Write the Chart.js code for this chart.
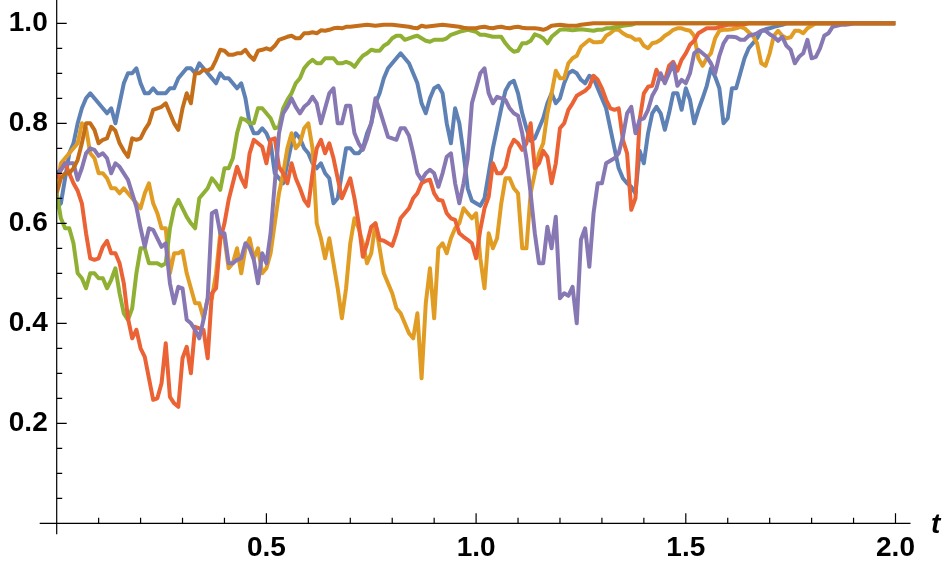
<!DOCTYPE html>
<html>
<head>
<meta charset="utf-8">
<script src="https://cdn.jsdelivr.net/npm/chart.js@4.4.1/dist/chart.umd.min.js"></script>
<style>
  html, body { margin: 0; padding: 0; background: #fff; }
  #wrap { width: 947px; height: 569px; }
</style>
</head>
<body>
<div id="wrap"><canvas id="walks"></canvas></div>
<script>
// time grid, step 0.01
const times = [
  0.00, 0.01, 0.02, 0.03, 0.04, 0.05, 0.06, 0.07, 0.08, 0.09,
  0.10, 0.11, 0.12, 0.13, 0.14, 0.15, 0.16, 0.17, 0.18, 0.19,
  0.20, 0.21, 0.22, 0.23, 0.24, 0.25, 0.26, 0.27, 0.28, 0.29,
  0.30, 0.31, 0.32, 0.33, 0.34, 0.35, 0.36, 0.37, 0.38, 0.39,
  0.40, 0.41, 0.42, 0.43, 0.44, 0.45, 0.46, 0.47, 0.48, 0.49,
  0.50, 0.51, 0.52, 0.53, 0.54, 0.55, 0.56, 0.57, 0.58, 0.59,
  0.60, 0.61, 0.62, 0.63, 0.64, 0.65, 0.66, 0.67, 0.68, 0.69,
  0.70, 0.71, 0.72, 0.73, 0.74, 0.75, 0.76, 0.77, 0.78, 0.79,
  0.80, 0.81, 0.82, 0.83, 0.84, 0.85, 0.86, 0.87, 0.88, 0.89,
  0.90, 0.91, 0.92, 0.93, 0.94, 0.95, 0.96, 0.97, 0.98, 0.99,
  1.00, 1.01, 1.02, 1.03, 1.04, 1.05, 1.06, 1.07, 1.08, 1.09,
  1.10, 1.11, 1.12, 1.13, 1.14, 1.15, 1.16, 1.17, 1.18, 1.19,
  1.20, 1.21, 1.22, 1.23, 1.24, 1.25, 1.26, 1.27, 1.28, 1.29,
  1.30, 1.31, 1.32, 1.33, 1.34, 1.35, 1.36, 1.37, 1.38, 1.39,
  1.40, 1.41, 1.42, 1.43, 1.44, 1.45, 1.46, 1.47, 1.48, 1.49,
  1.50, 1.51, 1.52, 1.53, 1.54, 1.55, 1.56, 1.57, 1.58, 1.59,
  1.60, 1.61, 1.62, 1.63, 1.64, 1.65, 1.66, 1.67, 1.68, 1.69,
  1.70, 1.71, 1.72, 1.73, 1.74, 1.75, 1.76, 1.77, 1.78, 1.79,
  1.80, 1.81, 1.82, 1.83, 1.84, 1.85, 1.86, 1.87, 1.88, 1.89,
  1.90, 1.91, 1.92, 1.93, 1.94, 1.95, 1.96, 1.97, 1.98, 1.99,
  2.00
];

const blueWalk = [
  0.63, 0.64, 0.69, 0.74, 0.76, 0.80, 0.83, 0.85, 0.86, 0.85,
  0.84, 0.83, 0.82, 0.83, 0.80, 0.84, 0.88, 0.90, 0.90, 0.91,
  0.88, 0.86, 0.86, 0.87, 0.86, 0.86, 0.86, 0.87, 0.87, 0.89,
  0.90, 0.91, 0.91, 0.90, 0.92, 0.91, 0.90, 0.89, 0.88, 0.90,
  0.89, 0.89, 0.88, 0.87, 0.88, 0.85, 0.80, 0.78, 0.78, 0.79,
  0.78, 0.76, 0.70, 0.69, 0.68, 0.72, 0.76, 0.78, 0.77, 0.75,
  0.74, 0.72, 0.71, 0.72, 0.70, 0.69, 0.64, 0.65, 0.70, 0.75,
  0.75, 0.74, 0.74, 0.75, 0.78, 0.80, 0.84, 0.86, 0.89, 0.91,
  0.92, 0.93, 0.94, 0.93, 0.92, 0.90, 0.88, 0.84, 0.82, 0.85,
  0.87, 0.875, 0.86, 0.80, 0.76, 0.83, 0.80, 0.74, 0.67, 0.645,
  0.64, 0.635, 0.65, 0.70, 0.75, 0.79, 0.83, 0.865, 0.88, 0.885,
  0.86, 0.82, 0.79, 0.765, 0.77, 0.79, 0.81, 0.84, 0.86, 0.84,
  0.85, 0.88, 0.90, 0.905, 0.90, 0.887, 0.88, 0.895, 0.89, 0.87,
  0.85, 0.83, 0.79, 0.75, 0.71, 0.69, 0.68, 0.673, 0.66, 0.745,
  0.72, 0.78, 0.82, 0.833, 0.82, 0.787, 0.82, 0.86, 0.86, 0.827,
  0.87, 0.847, 0.80, 0.827, 0.85, 0.875, 0.91, 0.893, 0.87, 0.80,
  0.81, 0.87, 0.87, 0.90, 0.93, 0.95, 0.96, 0.97, 0.985, 0.988,
  0.99, 0.993, 0.995, 0.997, 1, 1, 1, 1, 1, 1,
  1, 1, 1, 1, 1, 1, 1, 1, 1, 1,
  1, 1, 1, 1, 1, 1, 1, 1, 1, 1,
  1
];

const yellowWalk = [
  0.67, 0.72, 0.73, 0.74, 0.75, 0.76, 0.80, 0.79, 0.74, 0.73,
  0.70, 0.70, 0.69, 0.67, 0.67, 0.66, 0.67, 0.66, 0.65, 0.64,
  0.63, 0.66, 0.68, 0.64, 0.62, 0.59, 0.59, 0.50, 0.54, 0.54,
  0.545, 0.50, 0.47, 0.44, 0.44, 0.41, 0.45, 0.45, 0.50, 0.58,
  0.57, 0.51, 0.52, 0.55, 0.50, 0.55, 0.57, 0.53, 0.55, 0.50,
  0.51, 0.54, 0.60, 0.66, 0.70, 0.75, 0.78, 0.75, 0.76, 0.79,
  0.80, 0.75, 0.60, 0.57, 0.53, 0.57, 0.52, 0.47, 0.41, 0.47,
  0.56, 0.61, 0.59, 0.56, 0.52, 0.54, 0.60, 0.55, 0.50, 0.48,
  0.46, 0.43, 0.42, 0.40, 0.38, 0.37, 0.42, 0.29, 0.44, 0.51,
  0.41, 0.55, 0.56, 0.54, 0.57, 0.59, 0.60, 0.63, 0.62, 0.61,
  0.62, 0.53, 0.47, 0.58, 0.55, 0.57, 0.64, 0.69, 0.69, 0.67,
  0.66, 0.55, 0.55, 0.66, 0.70, 0.74, 0.76, 0.82, 0.86, 0.905,
  0.89, 0.89, 0.92, 0.93, 0.935, 0.953, 0.96, 0.967, 0.962, 0.962,
  0.963, 0.975, 0.98, 0.987, 0.987, 0.98, 0.975, 0.973, 0.967, 0.968,
  0.955, 0.95, 0.96, 0.962, 0.967, 0.975, 0.98, 0.987, 0.99, 0.99,
  0.987, 0.985, 0.975, 0.93, 0.915, 0.93, 0.94, 0.97, 0.985, 0.987,
  0.987, 0.988, 0.99, 0.993, 0.99, 0.982, 0.975, 0.96, 0.92, 0.915,
  0.94, 0.975, 0.985, 0.975, 0.97, 0.972, 0.985, 0.985, 0.98, 0.99,
  0.995, 1, 1, 1, 1, 1, 1, 1, 1, 1,
  1, 1, 1, 1, 1, 1, 1, 1, 1, 1,
  1
];

const greenWalk = [
  0.66, 0.61, 0.59, 0.59, 0.56, 0.50, 0.49, 0.47, 0.50, 0.50,
  0.49, 0.49, 0.47, 0.487, 0.51, 0.46, 0.42, 0.407, 0.43, 0.50,
  0.55, 0.55, 0.52, 0.52, 0.52, 0.515, 0.52, 0.59, 0.63, 0.647,
  0.63, 0.613, 0.60, 0.59, 0.65, 0.66, 0.67, 0.69, 0.68, 0.667,
  0.71, 0.71, 0.73, 0.78, 0.81, 0.807, 0.80, 0.80, 0.83, 0.83,
  0.82, 0.81, 0.79, 0.793, 0.83, 0.847, 0.86, 0.88, 0.89, 0.91,
  0.92, 0.927, 0.92, 0.92, 0.93, 0.93, 0.93, 0.92, 0.92, 0.923,
  0.92, 0.913, 0.925, 0.935, 0.94, 0.947, 0.945, 0.945, 0.955, 0.96,
  0.97, 0.975, 0.975, 0.967, 0.97, 0.973, 0.975, 0.97, 0.965, 0.963,
  0.967, 0.967, 0.967, 0.97, 0.977, 0.98, 0.983, 0.985, 0.987, 0.985,
  0.983, 0.977, 0.977, 0.975, 0.973, 0.973, 0.973, 0.96, 0.95, 0.943,
  0.945, 0.96, 0.96, 0.965, 0.978, 0.975, 0.97, 0.96, 0.973, 0.98,
  0.987, 0.988, 0.987, 0.986, 0.987, 0.988, 0.987, 0.986, 0.985, 0.987,
  0.987, 0.99, 0.99, 0.992, 0.993, 0.995, 0.996, 0.997, 1, 1,
  1, 1, 1, 1, 1, 1, 1, 1, 1, 1,
  1, 1, 1, 1, 1, 1, 1, 1, 1, 1,
  1, 1, 1, 1, 1, 1, 1, 1, 1, 1,
  1, 1, 1, 1, 1, 1, 1, 1, 1, 1,
  1, 1, 1, 1, 1, 1, 1, 1, 1, 1,
  1, 1, 1, 1, 1, 1, 1, 1, 1, 1,
  1
];

const redWalk = [
  0.69, 0.707, 0.72, 0.70, 0.68, 0.665, 0.64, 0.58, 0.53, 0.527,
  0.53, 0.553, 0.565, 0.54, 0.54, 0.52, 0.48, 0.41, 0.37, 0.387,
  0.35, 0.333, 0.29, 0.247, 0.25, 0.28, 0.36, 0.253, 0.24, 0.233,
  0.33, 0.353, 0.30, 0.393, 0.39, 0.387, 0.33, 0.46, 0.47, 0.567,
  0.60, 0.647, 0.68, 0.713, 0.69, 0.673, 0.74, 0.767, 0.76, 0.753,
  0.72, 0.767, 0.77, 0.713, 0.70, 0.68, 0.72, 0.69, 0.67, 0.647,
  0.635, 0.70, 0.75, 0.767, 0.74, 0.76, 0.73, 0.69, 0.65, 0.67,
  0.69, 0.65, 0.60, 0.533, 0.56, 0.593, 0.60, 0.567, 0.565, 0.56,
  0.555, 0.58, 0.61, 0.62, 0.63, 0.65, 0.66, 0.68, 0.685, 0.687,
  0.66, 0.647, 0.645, 0.62, 0.61, 0.607, 0.58, 0.573, 0.567, 0.56,
  0.53, 0.587, 0.63, 0.653, 0.72, 0.70, 0.70, 0.713, 0.75, 0.767,
  0.76, 0.747, 0.76, 0.80, 0.71, 0.72, 0.745, 0.733, 0.68, 0.72,
  0.79, 0.80, 0.827, 0.84, 0.855, 0.86, 0.865, 0.873, 0.895, 0.887,
  0.87, 0.847, 0.83, 0.827, 0.83, 0.767, 0.74, 0.627, 0.65, 0.807,
  0.86, 0.873, 0.875, 0.907, 0.89, 0.885, 0.915, 0.923, 0.905, 0.927,
  0.94, 0.957, 0.965, 0.98, 0.985, 0.99, 0.99, 0.99, 0.993, 0.995,
  0.997, 0.997, 0.997, 0.998, 0.998, 1, 1, 1, 1, 1,
  1, 1, 1, 1, 1, 1, 1, 1, 1, 1,
  1, 1, 1, 1, 1, 1, 1, 1, 1, 1,
  1, 1, 1, 1, 1, 1, 1, 1, 1, 1,
  1
];

const purpleWalk = [
  0.70, 0.707, 0.72, 0.72, 0.72, 0.687, 0.71, 0.74, 0.75, 0.747,
  0.735, 0.74, 0.73, 0.70, 0.72, 0.713, 0.70, 0.687, 0.66, 0.633,
  0.59, 0.553, 0.59, 0.587, 0.57, 0.553, 0.56, 0.48, 0.44, 0.473,
  0.47, 0.407, 0.40, 0.387, 0.37, 0.407, 0.45, 0.62, 0.625, 0.58,
  0.58, 0.52, 0.52, 0.527, 0.53, 0.56, 0.55, 0.527, 0.48, 0.54,
  0.52, 0.58, 0.68, 0.78, 0.82, 0.833, 0.85, 0.833, 0.82, 0.833,
  0.84, 0.853, 0.84, 0.80, 0.83, 0.86, 0.87, 0.80, 0.80, 0.835,
  0.835, 0.78, 0.76, 0.747, 0.77, 0.80, 0.85, 0.827, 0.80, 0.773,
  0.77, 0.767, 0.79, 0.79, 0.775, 0.74, 0.70, 0.687, 0.70, 0.707,
  0.70, 0.673, 0.70, 0.733, 0.74, 0.68, 0.64, 0.68, 0.73, 0.84,
  0.87, 0.90, 0.91, 0.86, 0.84, 0.853, 0.85, 0.847, 0.83, 0.82,
  0.815, 0.78, 0.73, 0.66, 0.58, 0.52, 0.52, 0.593, 0.55, 0.613,
  0.45, 0.46, 0.455, 0.473, 0.40, 0.567, 0.59, 0.513, 0.62, 0.68,
  0.68, 0.72, 0.725, 0.73, 0.74, 0.773, 0.82, 0.833, 0.78, 0.807,
  0.81, 0.827, 0.855, 0.87, 0.90, 0.88, 0.90, 0.92, 0.875, 0.887,
  0.88, 0.90, 0.94, 0.947, 0.94, 0.933, 0.92, 0.90, 0.935, 0.96,
  0.973, 0.973, 0.972, 0.967, 0.967, 0.975, 0.977, 0.98, 0.985, 0.985,
  0.978, 0.973, 0.965, 0.973, 0.955, 0.947, 0.92, 0.933, 0.94, 0.967,
  0.93, 0.933, 0.95, 0.975, 0.98, 0.993, 0.995, 0.997, 0.997, 0.998,
  1, 1, 1, 1, 1, 1, 1, 1, 1, 1,
  1
];

const brownWalk = [
  0.66, 0.69, 0.70, 0.70, 0.71, 0.727, 0.76, 0.80, 0.80, 0.787,
  0.76, 0.767, 0.77, 0.793, 0.785, 0.76, 0.745, 0.733, 0.77, 0.767,
  0.77, 0.787, 0.80, 0.827, 0.83, 0.833, 0.84, 0.82, 0.80, 0.787,
  0.83, 0.86, 0.84, 0.90, 0.90, 0.907, 0.905, 0.91, 0.927, 0.947,
  0.945, 0.937, 0.937, 0.94, 0.94, 0.947, 0.935, 0.927, 0.945, 0.947,
  0.95, 0.947, 0.955, 0.967, 0.97, 0.973, 0.975, 0.97, 0.97, 0.98,
  0.98, 0.982, 0.98, 0.986, 0.985, 0.987, 0.99, 0.991, 0.99, 0.993,
  0.993, 0.994, 0.995, 0.996, 0.997, 0.996, 0.995, 0.996, 0.997, 0.997,
  0.997, 0.996, 0.995, 0.994, 0.993, 0.991, 0.99, 0.995, 0.993, 0.994,
  0.995, 0.996, 0.997, 0.996, 0.995, 0.994, 0.993, 0.991, 0.99, 0.99,
  0.99, 0.992, 0.993, 0.991, 0.99, 0.992, 0.993, 0.991, 0.99, 0.992,
  0.993, 0.991, 0.99, 0.99, 0.99, 0.989, 0.987, 0.99, 0.995, 0.996,
  0.997, 0.996, 0.995, 0.995, 0.995, 0.997, 0.998, 0.999, 1, 1,
  1, 1, 1, 1, 1, 1, 1, 1, 1, 1,
  1, 1, 1, 1, 1, 1, 1, 1, 1, 1,
  1, 1, 1, 1, 1, 1, 1, 1, 1, 1,
  1, 1, 1, 1, 1, 1, 1, 1, 1, 1,
  1, 1, 1, 1, 1, 1, 1, 1, 1, 1,
  1, 1, 1, 1, 1, 1, 1, 1, 1, 1,
  1, 1, 1, 1, 1, 1, 1, 1, 1, 1,
  1
];

// tick positions: minor every 0.1 / 0.05, labels on the majors
const xTickValues = [0.1, 0.2, 0.3, 0.4, 0.5, 0.6, 0.7, 0.8, 0.9, 1.0,
                     1.1, 1.2, 1.3, 1.4, 1.5, 1.6, 1.7, 1.8, 1.9, 2.0];
const xTickLabels = [0.5, 1.0, 1.5, 2.0];
const yTickValues = [0.05, 0.10, 0.15, 0.20, 0.25, 0.30, 0.35, 0.40, 0.45, 0.50,
                     0.55, 0.60, 0.65, 0.70, 0.75, 0.80, 0.85, 0.90, 0.95, 1.00];
const yTickLabels = [0.2, 0.4, 0.6, 0.8, 1.0];

// Mathematica default colour order; the last one is drawn on top
const walks = [blueWalk, yellowWalk, greenWalk, redWalk, purpleWalk, brownWalk];
const colors = ["#5E81B5", "#E19C24", "#8FB032", "#EB6235", "#8778B3", "#C56E1A"];

const tickFont = { family: "'Liberation Sans', Arial, sans-serif", size: 28, weight: "bold" };

function isLabelled(v, list) {
    return list.some(l => Math.abs(l - v) < 1e-6);
}

// axes crossing at the origin with inward tick marks
const axesPlugin = {
    id: "mathAxes",
    afterDraw(chart) {
        const { ctx, scales: { x, y } } = chart;
        const x0 = x.getPixelForValue(0);
        const y0 = y.getPixelForValue(0);
        ctx.save();
        ctx.strokeStyle = "#000";
        ctx.lineWidth = 1.2;
        ctx.beginPath();
        ctx.moveTo(x0 - 17, y0);
        ctx.lineTo(x.getPixelForValue(2) + 15, y0);
        ctx.moveTo(x0, 0);
        ctx.lineTo(x0, y0 + 11);

        x.ticks.forEach(t => {
            const px = x.getPixelForValue(t.value);
            const len = isLabelled(t.value, xTickLabels) ? 10 : 5.5;
            ctx.moveTo(px, y0);
            ctx.lineTo(px, y0 - len);
        });
        y.ticks.forEach(t => {
            const py = y.getPixelForValue(t.value);
            const len = isLabelled(t.value, yTickLabels) ? 10 : 5.5;
            ctx.moveTo(x0, py);
            ctx.lineTo(x0 + len, py);
        });
        ctx.stroke();

        ctx.fillStyle = "#000";
        ctx.font = "italic bold 28px 'Liberation Sans', Arial, sans-serif";
        ctx.textBaseline = "alphabetic";
        ctx.fillText("t", 931, 533);
        ctx.restore();
    }
};

new Chart(document.getElementById("walks").getContext("2d"), {
    type: "line",
    data: {
        labels: times,
        datasets: walks.map((w, i) => ({
            data: w.map((v, k) => ({ x: times[k], y: v })),
            borderColor: colors[i],
            borderWidth: 4,
            pointRadius: 0,
            tension: 0,
            fill: false,
            borderJoinStyle: "round",
            order: walks.length - i
        }))
    },
    options: {
        responsive: true,
        maintainAspectRatio: false,
        animation: false,
        layout: { padding: { left: 0, right: 51.5, top: 3.3, bottom: 0 } },
        plugins: { legend: { display: false }, tooltip: { enabled: false } },
        scales: {
            x: {
                type: "linear",
                min: 0,
                max: 2,
                grid: { display: false, drawTicks: false },
                border: { display: false },
                afterBuildTicks: s => { s.ticks = xTickValues.map(v => ({ value: v })); },
                afterFit: s => { s.height = 45.7; s.paddingLeft = 0; s.paddingRight = 0; },
                ticks: {
                    autoSkip: false,
                    maxRotation: 0,
                    padding: 8,
                    color: "#000",
                    font: tickFont,
                    callback: v => isLabelled(v, xTickLabels) ? v.toFixed(1) : ""
                }
            },
            y: {
                min: 0,
                max: 1.04,
                grid: { display: false, drawTicks: false },
                border: { display: false },
                afterBuildTicks: s => { s.ticks = yTickValues.map(v => ({ value: v })); },
                afterFit: s => { s.width = 56.7; s.paddingTop = 0; s.paddingBottom = 0; },
                ticks: {
                    autoSkip: false,
                    padding: 9,
                    color: "#000",
                    font: tickFont,
                    callback: v => isLabelled(v, yTickLabels) ? v.toFixed(1) : ""
                }
            }
        }
    },
    plugins: [axesPlugin]
});
</script>
</body>
</html>
